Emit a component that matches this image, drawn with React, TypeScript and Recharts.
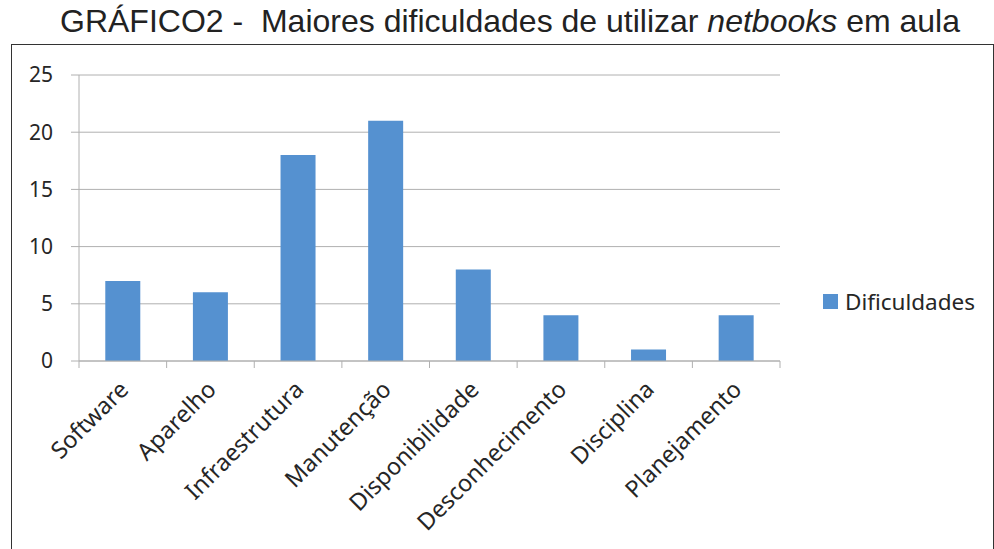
import React from 'react';
import { BarChart, Bar, XAxis, YAxis, CartesianGrid, Legend } from 'recharts';

const categories = [
  'Software',
  'Aparelho',
  'Infraestrutura',
  'Manutenção',
  'Disponibilidade',
  'Desconhecimento',
  'Disciplina',
  'Planejamento',
];
const dificuldades = [7, 6, 18, 21, 8, 4, 1, 4];
const yTicks = [0, 5, 10, 15, 20, 25];
const seriesName = 'Dificuldades';

const data = categories.map((name, i) => ({ name, value: dificuldades[i] }));

const W = 994;
const H = 549;
const MARGIN = { top: 75, right: 214, bottom: 0, left: 0 };
const Y_AXIS_W = 79;
const X_AXIS_H = 188;
const PLOT_W = W - MARGIN.right - Y_AXIS_W;
const BAND = PLOT_W / categories.length;

const AXIS_COLOR = '#b0b0b0';
const TEXT_COLOR = '#262626';
const BAR_COLOR = '#5591d0';
const FONT = '"Noto Sans", "Open Sans", sans-serif';

function CategoryTick(props: any) {
  const { x, y, payload, index } = props;
  const last = index === categories.length - 1;
  const tx = x + 7;
  const ty = y + 30;
  return (
    <g>
      <line x1={x - BAND / 2} x2={x - BAND / 2} y1={y} y2={y + 7} stroke={AXIS_COLOR} />
      {last && <line x1={x + BAND / 2} x2={x + BAND / 2} y1={y} y2={y + 7} stroke={AXIS_COLOR} />}
      <text
        x={tx}
        y={ty}
        transform={`rotate(-45 ${tx} ${ty})`}
        textAnchor="end"
        fill={TEXT_COLOR}
        fontSize={23.5}
        fontFamily={FONT}
      >
        {payload.value}
      </text>
    </g>
  );
}

function LegendBox() {
  return (
    <div style={{ display: 'flex', alignItems: 'center', fontFamily: FONT, fontSize: 22.5, color: TEXT_COLOR }}>
      <span style={{ width: 15, height: 15, background: BAR_COLOR, display: 'inline-block', marginRight: 7 }} />
      <span>{seriesName}</span>
    </div>
  );
}

export default function App() {
  return (
    <div style={{ position: 'absolute', left: 0, top: 0, width: W, height: H, background: '#fff', overflow: 'hidden' }}>
      <div
        style={{
          position: 'absolute',
          left: 11,
          top: 44,
          width: 981,
          height: 520,
          border: '1px solid #333',
        }}
      />
      <div
        style={{
          position: 'absolute',
          left: 0,
          top: 3,
          width: 1020,
          textAlign: 'center',
          fontFamily: '"Liberation Sans", Arial, sans-serif',
          fontSize: 32,
          lineHeight: '36px',
          color: '#222',
          whiteSpace: 'pre',
        }}
      >
        GRÁFICO2 -  Maiores dificuldades de utilizar <i>netbooks</i> em aula
      </div>
      <div style={{ position: 'absolute', left: 0, top: 0 }}>
        <BarChart width={W} height={H} data={data} margin={MARGIN} barCategoryGap="30%">
          <CartesianGrid vertical={false} stroke={AXIS_COLOR} />
          <XAxis
            dataKey="name"
            height={X_AXIS_H}
            interval={0}
            stroke={AXIS_COLOR}
            tickLine={false}
            tickSize={0}
            tickMargin={0}
            tick={<CategoryTick />}
          />
          <YAxis
            width={Y_AXIS_W}
            domain={[0, 25]}
            ticks={yTicks}
            interval={0}
            stroke={AXIS_COLOR}
            tickSize={8}
            tickMargin={18}
            tick={{ fill: TEXT_COLOR, fontSize: 21, fontFamily: FONT }}
          />
          <Legend
            verticalAlign="middle"
            align="center"
            layout="horizontal"
            content={<LegendBox />}
            wrapperStyle={{ position: 'absolute', left: 823, top: 286, width: 'auto' }}
          />
          <Bar dataKey="value" name={seriesName} fill={BAR_COLOR} isAnimationActive={false} />
        </BarChart>
      </div>
    </div>
  );
}
